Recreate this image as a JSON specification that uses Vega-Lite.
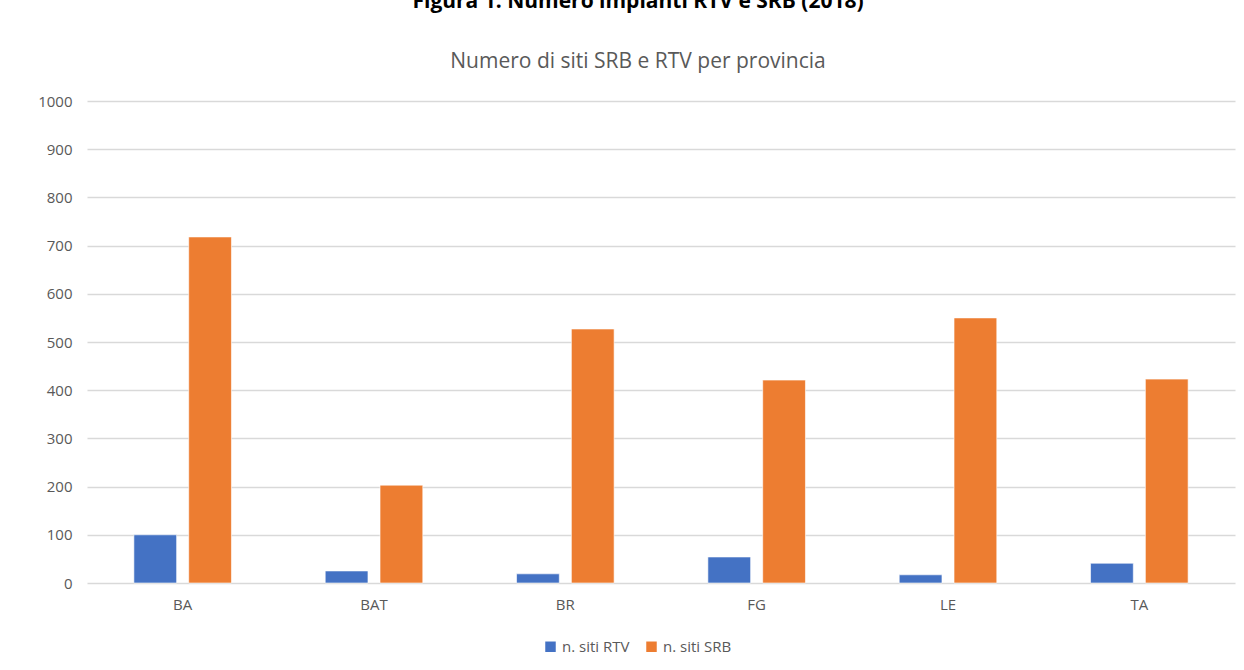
{
  "$schema": "https://vega.github.io/schema/vega-lite/v6.json",
  "width": 1148,
  "height": 482,
  "autosize": {"type": "none"},
  "padding": {"left": 87, "top": 101, "right": 9, "bottom": 87},
  "background": "white",
  "title": {
    "text": "Figura 1: Numero impianti RTV e SRB (2018)",
    "subtitle": "Numero di siti SRB e RTV per provincia",
    "anchor": "middle",
    "frame": "group",
    "dx": -23,
    "offset": 22,
    "font": "Open Sans",
    "fontSize": 21,
    "fontWeight": "bold",
    "color": "#000000",
    "subtitleFont": "Open Sans",
    "subtitleFontSize": 21,
    "subtitleColor": "#595959",
    "subtitlePadding": 39
  },
  "data": {
    "values": [
      {"prov": "BA", "serie": "n. siti RTV", "valore": 100},
      {"prov": "BA", "serie": "n. siti SRB", "valore": 718},
      {"prov": "BAT", "serie": "n. siti RTV", "valore": 25},
      {"prov": "BAT", "serie": "n. siti SRB", "valore": 203},
      {"prov": "BR", "serie": "n. siti RTV", "valore": 19},
      {"prov": "BR", "serie": "n. siti SRB", "valore": 527},
      {"prov": "FG", "serie": "n. siti RTV", "valore": 54},
      {"prov": "FG", "serie": "n. siti SRB", "valore": 421},
      {"prov": "LE", "serie": "n. siti RTV", "valore": 17},
      {"prov": "LE", "serie": "n. siti SRB", "valore": 550},
      {"prov": "TA", "serie": "n. siti RTV", "valore": 41},
      {"prov": "TA", "serie": "n. siti SRB", "valore": 423}
    ]
  },
  "mark": {"type": "bar", "stroke": "white", "strokeWidth": 1, "strokeOpacity": 0.6},
  "encoding": {
    "x": {
      "field": "prov",
      "type": "nominal",
      "sort": null,
      "title": null,
      "scale": {"paddingInner": 0.49, "paddingOuter": 0.245},
      "axis": {
        "labelAngle": 0,
        "labelFont": "Open Sans",
        "labelFontSize": 15,
        "labelColor": "#595959",
        "labelPadding": 14,
        "ticks": false,
        "domain": false
      }
    },
    "xOffset": {
      "field": "serie",
      "type": "nominal",
      "scale": {"paddingInner": 0.22, "paddingOuter": 0}
    },
    "y": {
      "field": "valore",
      "type": "quantitative",
      "title": null,
      "scale": {"domain": [0, 1000], "nice": false},
      "axis": {
        "values": [0, 100, 200, 300, 400, 500, 600, 700, 800, 900, 1000],
        "format": "d",
        "labelFont": "Open Sans",
        "labelFontSize": 15,
        "labelColor": "#595959",
        "labelPadding": 15,
        "ticks": false,
        "domain": false,
        "grid": true,
        "gridColor": "#d9d9d9",
        "gridWidth": 1.5
      }
    },
    "color": {
      "field": "serie",
      "type": "nominal",
      "scale": {"domain": ["n. siti RTV", "n. siti SRB"], "range": ["#4472c4", "#ed7d31"]},
      "legend": {
        "title": null,
        "orient": "none",
        "legendX": 456,
        "legendY": 538,
        "direction": "horizontal",
        "symbolType": "square",
        "symbolSize": 110,
        "symbolStrokeWidth": 0,
        "labelFont": "Open Sans",
        "labelFontSize": 15,
        "labelColor": "#595959",
        "columnPadding": 14
      }
    }
  },
  "config": {
    "view": {"stroke": null}
  }
}
